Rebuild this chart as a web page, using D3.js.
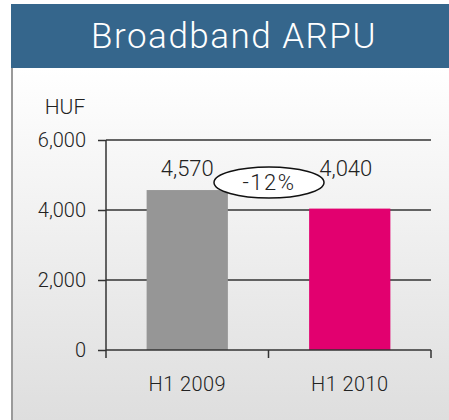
<!DOCTYPE html>
<html lang="en">
<head>
<meta charset="utf-8">
<title>Broadband ARPU</title>
<script src="https://cdn.jsdelivr.net/npm/d3@7"></script>
<style>
body { margin: 0; background: #fff; }
text { font-family: Roboto, "Liberation Sans", Arial, sans-serif; font-weight: 300; }
</style>
</head>
<body>
<script>
// data
var categories = ["H1 2009", "H1 2010"];
var values = [4570, 4040];
var valueLabels = ["4,570", "4,040"];
var yTicks = [0, 2000, 4000, 6000];
var colors = ["#969696", "#e2006f"];
var title = "Broadband ARPU";
var unit = "HUF";
var change = "-12%";

var width = 449, height = 420;
var font = "Roboto, Liberation Sans, Arial, sans-serif";

var svg = d3.select("body").append("svg")
    .attr("width", width)
    .attr("height", height);

// panel background gradient
var grad = svg.append("defs").append("linearGradient")
    .attr("id", "bg").attr("x1", 0).attr("y1", 0).attr("x2", 0).attr("y2", 1);
grad.append("stop").attr("offset", "0%").attr("stop-color", "#ffffff");
grad.append("stop").attr("offset", "100%").attr("stop-color", "#dedede");

svg.append("rect")
    .attr("x", 12).attr("y", 68)
    .attr("width", width - 12).attr("height", height - 68)
    .attr("fill", "url(#bg)");
svg.append("line")
    .attr("x1", 12).attr("x2", 12).attr("y1", 68).attr("y2", height)
    .attr("stroke", "#9a9a9a").attr("stroke-width", 2);

// title banner
svg.append("rect")
    .attr("x", 11).attr("y", 4)
    .attr("width", width - 11).attr("height", 64)
    .attr("fill", "#35668c");
svg.append("text")
    .attr("x", 234).attr("y", 48)
    .attr("text-anchor", "middle")
    .attr("fill", "#fff")
    .attr("font-size", "35px")
    .attr("letter-spacing", "1.5px")
    .text(title);

// scales
var x = d3.scaleBand().domain(categories).range([106, 431])
    .paddingInner(0.5).paddingOuter(0.25);
var y = d3.scaleLinear().domain([0, 6000]).range([350, 140]);

// gridlines
svg.append("g").selectAll("line")
    .data(yTicks.filter(function(d) { return d > 0; }))
    .enter().append("line")
    .attr("x1", 106).attr("x2", 431)
    .attr("y1", function(d) { return y(d); })
    .attr("y2", function(d) { return y(d); })
    .attr("stroke", "#333").attr("stroke-width", 1.5);

// bars
svg.append("g").selectAll("rect")
    .data(values)
    .enter().append("rect")
    .attr("x", function(d, i) { return x(categories[i]); })
    .attr("width", x.bandwidth())
    .attr("y", function(d) { return y(d); })
    .attr("height", function(d) { return y(0) - y(d); })
    .attr("fill", function(d, i) { return colors[i]; });

// y axis
var yAxis = svg.append("g")
    .attr("transform", "translate(106,0)")
    .call(d3.axisLeft(y).tickValues(yTicks).tickSize(8).tickPadding(12)
        .tickFormat(d3.format(",")));
yAxis.select(".domain").attr("stroke", "#333").attr("stroke-width", 1.5)
    .attr("d", "M0," + y(6000) + "V" + y(0));
yAxis.selectAll(".tick line").attr("stroke", "#333").attr("stroke-width", 1.5);
yAxis.selectAll("text").attr("font-size", "20px").attr("fill", "#222")
    .attr("font-family", font).attr("font-weight", 300);

// x axis
var xAxis = svg.append("g")
    .attr("transform", "translate(0," + y(0) + ")")
    .call(d3.axisBottom(x).tickSize(0).tickPadding(27));
xAxis.select(".domain").attr("stroke", "#333").attr("stroke-width", 1.5)
    .attr("d", "M106,0H431");
xAxis.selectAll("text").attr("font-size", "20px").attr("fill", "#222")
    .attr("font-family", font).attr("font-weight", 300)
    .attr("letter-spacing", "0.4px");
// category separator ticks
svg.append("g").selectAll("line")
    .data([106, 106 + x.step(), 431])
    .enter().append("line")
    .attr("x1", function(d) { return d; }).attr("x2", function(d) { return d; })
    .attr("y1", y(0)).attr("y2", y(0) + 8)
    .attr("stroke", "#333").attr("stroke-width", 1.5);

// unit label
svg.append("text")
    .attr("x", 65).attr("y", 114)
    .attr("text-anchor", "middle")
    .attr("font-size", "21px").attr("fill", "#222")
    .text(unit);

// value labels
svg.append("g").selectAll("text")
    .data(valueLabels)
    .enter().append("text")
    .attr("x", function(d, i) { return x(categories[i]) + x.bandwidth() / 2 - (i ? 4 : 0); })
    .attr("y", 176)
    .attr("text-anchor", "middle")
    .attr("font-size", "22px").attr("fill", "#222")
    .text(function(d) { return d; });

// change bubble
svg.append("ellipse")
    .attr("cx", 269).attr("cy", 182.5).attr("rx", 55).attr("ry", 15.5)
    .attr("fill", "#fff").attr("stroke", "#111").attr("stroke-width", 1.5);
svg.append("text")
    .attr("x", 269).attr("y", 190)
    .attr("text-anchor", "middle")
    .attr("font-size", "22px").attr("fill", "#222")
    .attr("letter-spacing", "1.5px")
    .text(change);
</script>
</body>
</html>
